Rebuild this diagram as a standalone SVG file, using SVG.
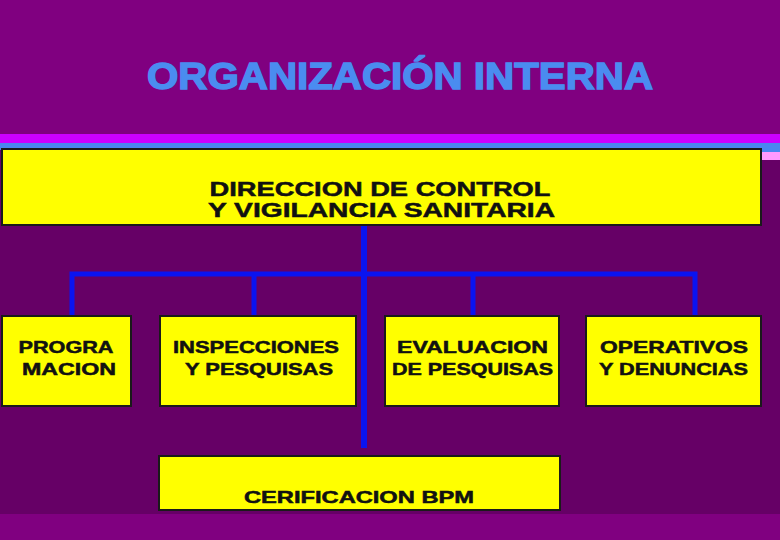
<svg xmlns="http://www.w3.org/2000/svg" width="780" height="540" viewBox="0 0 780 540">
<style>
.box{fill:#FFFF00;stroke:#1a1a1a;stroke-width:2}
.lbl{font-family:"Liberation Sans",Arial,sans-serif;font-weight:bold;fill:#111;stroke:#111;stroke-width:0.5;text-anchor:middle}
.t21{font-size:21px}
.t17{font-size:16.5px}
.conn{fill:none;stroke:#0A14F0;stroke-width:5}
</style>
<rect x="0" y="0" width="780" height="540" fill="#660066"/>
<rect x="0" y="0" width="780" height="134" fill="#800080"/>
<rect x="0" y="134" width="780" height="9" fill="#CC00FF"/>
<rect x="0" y="143" width="780" height="7" fill="#4A86F0"/>
<rect x="762" y="150" width="18" height="2" fill="#4A86F0"/>
<rect x="762" y="152" width="18" height="8" fill="#FF99FF"/>
<rect x="0" y="514" width="780" height="26" fill="#800080"/>
<text x="400" y="89" font-family="'Liberation Sans',Arial,sans-serif" font-weight="bold" font-size="36" fill="#4A8CF0" stroke="#4A8CF0" stroke-width="1.4" text-anchor="middle" textLength="506" lengthAdjust="spacingAndGlyphs">ORGANIZACIÓN INTERNA</text>
<g id="connectors">
<line class="conn" x1="364" y1="225" x2="364" y2="448" style="stroke-width:6"/>
<polyline class="conn" points="72,316 72,274 695,274 695,316"/>
<line class="conn" x1="254" y1="274" x2="254" y2="317"/>
<line class="conn" x1="473" y1="274" x2="473" y2="317"/>
</g>
<g id="direccion">
<rect class="box" x="2" y="149" width="759" height="76"/>
<text class="lbl t21" x="380" y="196" textLength="341" lengthAdjust="spacingAndGlyphs">DIRECCION DE CONTROL</text>
<text class="lbl t21" x="381.5" y="217" textLength="347" lengthAdjust="spacingAndGlyphs">Y VIGILANCIA SANITARIA</text>
</g>
<g id="programacion">
<rect class="box" x="2" y="316" width="129" height="90"/>
<text class="lbl t17" x="66" y="353" textLength="95" lengthAdjust="spacingAndGlyphs">PROGRA</text>
<text class="lbl t17" x="69" y="375" textLength="94" lengthAdjust="spacingAndGlyphs">MACION</text>
</g>
<g id="inspecciones">
<rect class="box" x="160" y="316" width="196" height="90"/>
<text class="lbl t17" x="256" y="353" textLength="166" lengthAdjust="spacingAndGlyphs">INSPECCIONES</text>
<text class="lbl t17" x="259" y="375" textLength="148" lengthAdjust="spacingAndGlyphs">Y PESQUISAS</text>
</g>
<g id="evaluacion">
<rect class="box" x="385" y="316" width="174" height="90"/>
<text class="lbl t17" x="472.5" y="353" textLength="151" lengthAdjust="spacingAndGlyphs">EVALUACION</text>
<text class="lbl t17" x="472.5" y="375" textLength="161" lengthAdjust="spacingAndGlyphs">DE PESQUISAS</text>
</g>
<g id="operativos">
<rect class="box" x="586" y="316" width="175" height="90"/>
<text class="lbl t17" x="674" y="353" textLength="148" lengthAdjust="spacingAndGlyphs">OPERATIVOS</text>
<text class="lbl t17" x="673.5" y="375" textLength="149" lengthAdjust="spacingAndGlyphs">Y DENUNCIAS</text>
</g>
<g id="certificacion">
<rect class="box" x="159" y="456" width="401" height="54"/>
<text class="lbl t17" x="359" y="503" textLength="230" lengthAdjust="spacingAndGlyphs">CERIFICACION BPM</text>
</g>
</svg>
